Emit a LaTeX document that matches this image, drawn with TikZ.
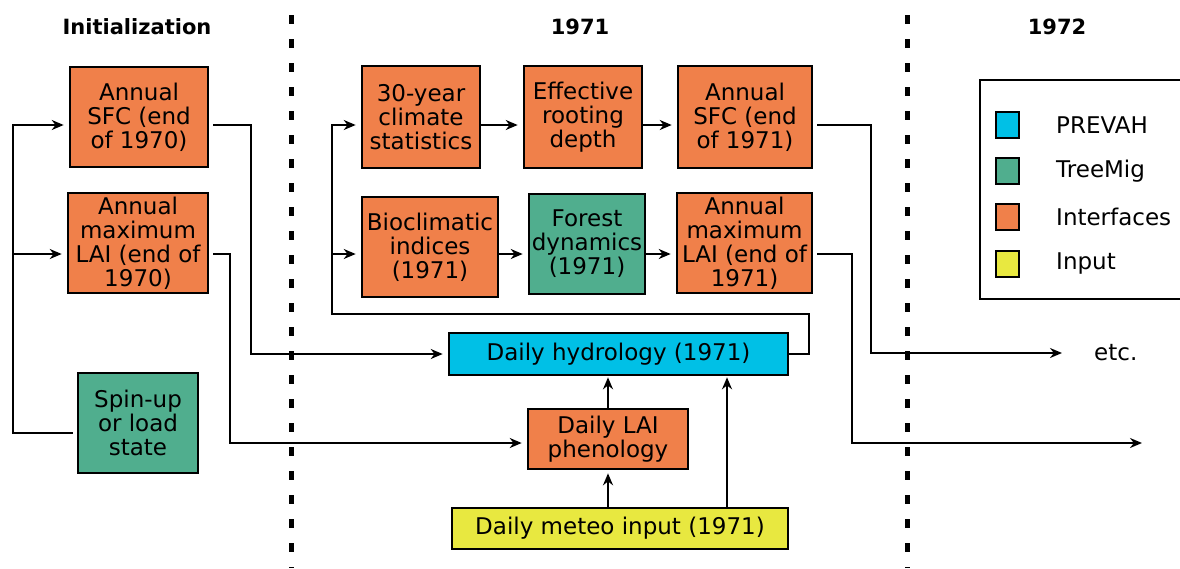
\documentclass[tikz,border=0pt]{standalone}
\usepackage{fontspec}
\setmainfont{DejaVu Sans}
\usetikzlibrary{arrows.meta}
\definecolor{orangeIF}{RGB}{240,128,74}
\definecolor{greenTM}{RGB}{80,174,142}
\definecolor{blueHY}{RGB}{0,192,230}
\definecolor{yellowIN}{RGB}{232,232,64}

\begin{document}
\begin{tikzpicture}[x=1pt, y=-1pt,
		box/.style={draw, line width=2.6pt, align=center, inner sep=0pt, font=\fontsize{23}{24}\selectfont},
		line/.style={line width=2.2pt},
		arr/.style={line, -{Stealth[length=12pt,width=10pt]}, shorten >=5pt},
		sep/.style={line width=5pt, dash pattern=on 9pt off 15pt},
		title/.style={font=\fontsize{21}{24}\selectfont\bfseries},
		key/.style={draw, line width=2.4pt, minimum width=23pt, minimum height=26pt, inner sep=0pt},
		keytext/.style={anchor=west, inner sep=0pt, font=\fontsize{23}{24}\selectfont}]
				\useasboundingbox (0,0) rectangle (1180,568);
				\coordinate (rowA) at (0,125);
				\coordinate (rowB) at (0,254);

				% Year separators
				\draw[sep] (291,15) -- (291,568);
				\draw[sep] (907,15) -- (907,568);

				% Initialization
				\node[title] (tInit) at (137,27) {Initialization};
				\node[box, fill=orangeIF, minimum width=138pt, minimum height=100pt] (sfcA) at (139,117) {Annual\\SFC (end\\of 1970)};
				\node[box, fill=orangeIF, minimum width=140pt, minimum height=100pt] (laiA) at (138,243) {Annual\\maximum\\LAI (end of\\1970)};
				\node[box, fill=greenTM, minimum width=120pt, minimum height=100pt] (spin) at (138,423) {Spin-up\\or load\\state};

				% 1971
				\node[title] (t71) at (580,27) {1971};
				\node[box, fill=orangeIF, minimum width=118pt, minimum height=102pt] (clim) at (421,117) {30-year\\climate\\statistics};
				\node[box, fill=orangeIF, minimum width=118pt, minimum height=102pt] (root) at (583,117) {Effective\\rooting\\depth};
				\node[box, fill=orangeIF, minimum width=134pt, minimum height=102pt] (sfcB) at (745,117) {Annual\\SFC (end\\of 1971)};
				\node[box, fill=orangeIF, minimum width=136pt, minimum height=100pt] (bio) at (430,247) {Bioclimatic\\indices\\(1971)};
				\node[box, fill=greenTM, minimum width=116pt, minimum height=100pt] (forest) at (587,244) {Forest\\dynamics\\(1971)};
				\node[box, fill=orangeIF, minimum width=135pt, minimum height=100pt] (laiB) at (744.5,243) {Annual\\maximum\\LAI (end of\\1971)};
				\node[box, fill=blueHY, minimum width=339pt, minimum height=42pt] (hydro) at (618.5,354) {Daily hydrology (1971)};
				\node[box, fill=orangeIF, minimum width=160pt, minimum height=60pt] (pheno) at (608,439) {Daily LAI\\phenology};
				\node[box, fill=yellowIN, minimum width=336pt, minimum height=41pt] (meteo) at (620,528.5) {Daily meteo input (1971)};

				% 1972
				\node[title] (t72) at (1057,27) {1972};
				\node[keytext] (etc) at (1094,353) {etc.};

				% Legend
				\draw[line width=1.4pt] (980,80) rectangle (1190,299);
				\node[key, fill=blueHY] (kHydro) at (1007.5,125) {};
				\node[key, fill=greenTM] (kForest) at (1007.5,171) {};
				\node[key, fill=orangeIF] (kIface) at (1007.5,217) {};
				\node[key, fill=yellowIN] (kInput) at (1007.5,264) {};
				\node[keytext] (lHydro) at (1056,125) {PREVAH};
				\node[keytext] (lForest) at (1056,171) {TreeMig};
				\node[keytext] (lIface) at (1056,217) {Interfaces};
				\node[keytext] (lInput) at (1056,264) {Input};

				% Initialization links
				\coordinate (busL) at (13,433);
				\draw[arr, shorten <=4pt] (spin.west |- busL) -- (busL) |- (sfcA.west |- rowA);
				\draw[arr] (busL |- rowB) -- (laiA.west |- rowB);
				\draw[arr, shorten <=4pt] (sfcA.east |- rowA) -- ++(42,0) |- (hydro.west);
				\draw[arr, shorten <=4pt] (laiA.east |- rowB) -- ++(21,0) |- ([yshift=-4pt]pheno.west);

				% 1971 links
				\draw[arr] (clim.east |- rowA) -- (root.west |- rowA);
				\draw[arr] (root.east |- rowA) -- (sfcB.west |- rowA);
				\draw[arr] (bio.east |- rowB) -- (forest.west |- rowB);
				\draw[arr] (forest.east |- rowB) -- (laiB.west |- rowB);
				\coordinate (busM) at (332,314);
				\draw[arr] (hydro.east) -- ++(20,0) |- (busM) |- (clim.west |- rowA);
				\draw[arr] (busM |- rowB) -- (bio.west |- rowB);
				\coordinate (colM) at (727,0);
				\draw[arr, shorten >=3pt] (meteo.north -| pheno.center) -- (pheno.south);
				\draw[arr, shorten >=1pt] (pheno.north) -- (pheno.north |- hydro.south);
				\draw[arr, shorten >=1pt] (meteo.north -| colM) -- (hydro.south -| colM);

				% Links to 1972
				\coordinate (outA) at (1067,353);
				\coordinate (outB) at (1147,443);
				\draw[arr, shorten <=4pt] (sfcB.east |- rowA) -- ++(58,0) |- (outA);
				\draw[arr, shorten <=4pt] (laiB.east |- rowB) -- ++(39,0) |- (outB);
			\end{tikzpicture}
\end{document}
